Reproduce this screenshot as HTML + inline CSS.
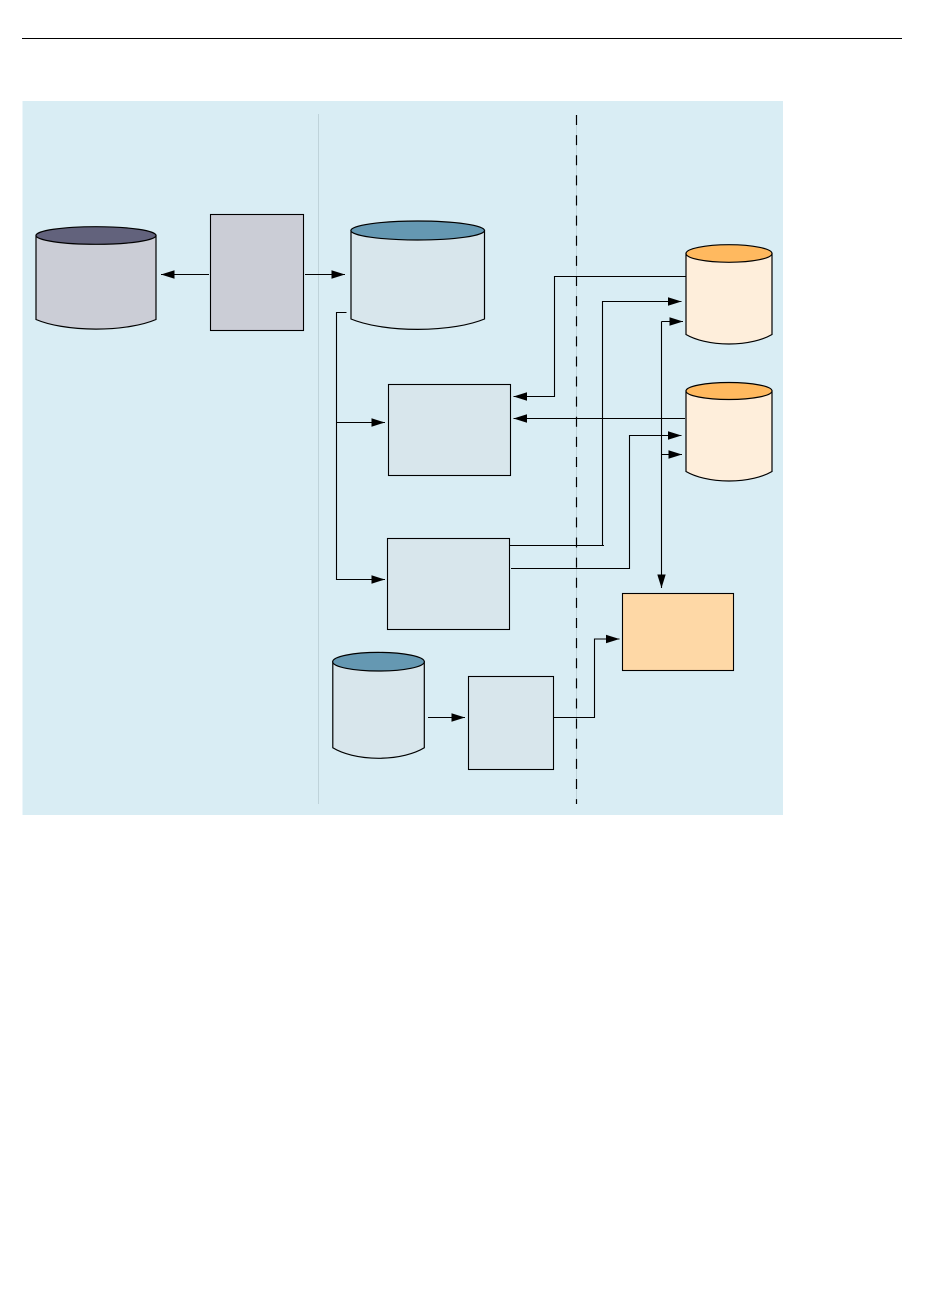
<!DOCTYPE html>
<html>
<head>
<meta charset="utf-8">
<style>
html,body{margin:0;padding:0;background:#fff;width:950px;height:1301px;overflow:hidden}
svg{display:block}
</style>
</head>
<body>
<svg width="950" height="1301" viewBox="0 0 950 1301" xmlns="http://www.w3.org/2000/svg">
<defs>
<marker id="a" markerUnits="userSpaceOnUse" markerWidth="14" markerHeight="10" refX="13.500" refY="5" orient="auto">
<path d="M0 .8L13.500 5L0 9.200z" fill="#000"/>
</marker>
</defs>
<rect width="950" height="1301" fill="#fff"/>
<line x1="22" y1="38.500" x2="902" y2="38.500" stroke="#000" stroke-width="1"/>
<rect x="22.500" y="101" width="760.500" height="714" fill="#d9edf4"/>
<line x1="318.500" y1="114" x2="318.500" y2="804" stroke="#bfd3da" stroke-width="1"/>
<line x1="576.500" y1="115" x2="576.500" y2="804" stroke="#bfd3da" stroke-width="1"/>
<line x1="576.500" y1="115" x2="576.500" y2="804" stroke="#000" stroke-width="1.200" stroke-dasharray="10 10.120"/>

<g stroke="#000" stroke-width="1.200">
<!-- cylinders -->
<path d="M36 235.500V319.500A75 24 0 0 0 156 319.500V235.500z" fill="#cbcdd6"/>
<ellipse cx="96" cy="235.500" rx="60" ry="8.800" fill="#62627c"/>
<path d="M351 230.500V319A83.500 26 0 0 0 484.500 319V230.500z" fill="#d8e6ec"/>
<ellipse cx="417.700" cy="230.500" rx="66.800" ry="9.500" fill="#6598b2"/>
<path d="M686 253.500V334.500A54 24 0 0 0 772 334.500V253.500z" fill="#feeedb"/>
<ellipse cx="729" cy="253.500" rx="43" ry="8.800" fill="#ffb95f"/>
<path d="M686 391V471.500A54 24 0 0 0 772 471.500V391z" fill="#feeedb"/>
<ellipse cx="729" cy="391" rx="43" ry="8.500" fill="#ffb95f"/>
<path d="M332.800 661.700V747.800A57 26 0 0 0 424.300 747.800V661.700z" fill="#d8e6ec"/>
<ellipse cx="378.500" cy="661.700" rx="45.800" ry="9.300" fill="#6598b2"/>
</g>
<g stroke="#000" stroke-width="1.100">
<!-- boxes -->
<rect x="210.500" y="214.500" width="93" height="116" fill="#cbcdd6"/>
<rect x="388.500" y="384.500" width="122" height="91" fill="#d8e6ec"/>
<rect x="387.500" y="538.500" width="122" height="91" fill="#d8e6ec"/>
<rect x="468.500" y="676.500" width="85" height="93" fill="#d8e6ec"/>
<rect x="622.500" y="593.500" width="111" height="77" fill="#fed8a6"/>
</g>

<g fill="none" stroke="#000" stroke-width="1.100">
<path d="M209 274.500H161" marker-end="url(#a)"/>
<path d="M305 274.500H345" marker-end="url(#a)"/>
<path d="M346.500 312.500H336.500V579.500H385" marker-end="url(#a)"/>
<path d="M336.500 422.500H385" marker-end="url(#a)"/>
<path d="M686 276.500H554.500V396.500H513.500" marker-end="url(#a)"/>
<path d="M685 418.500H513.500" marker-end="url(#a)"/>
<path d="M510 545.500H604"/>
<path d="M602.500 545.500V301.500H681.500" marker-end="url(#a)"/>
<path d="M511 568.500H629.500V435.500H681.500" marker-end="url(#a)"/>
<path d="M661.500 321.500V588" marker-end="url(#a)"/>
<path d="M661.500 321.500H683" marker-end="url(#a)"/>
<path d="M661.500 454.500H682" marker-end="url(#a)"/>
<path d="M428 717.500H465" marker-end="url(#a)"/>
<path d="M554 717.500H594.500V639H619.500" marker-end="url(#a)"/>
</g>
</svg>
</body>
</html>
